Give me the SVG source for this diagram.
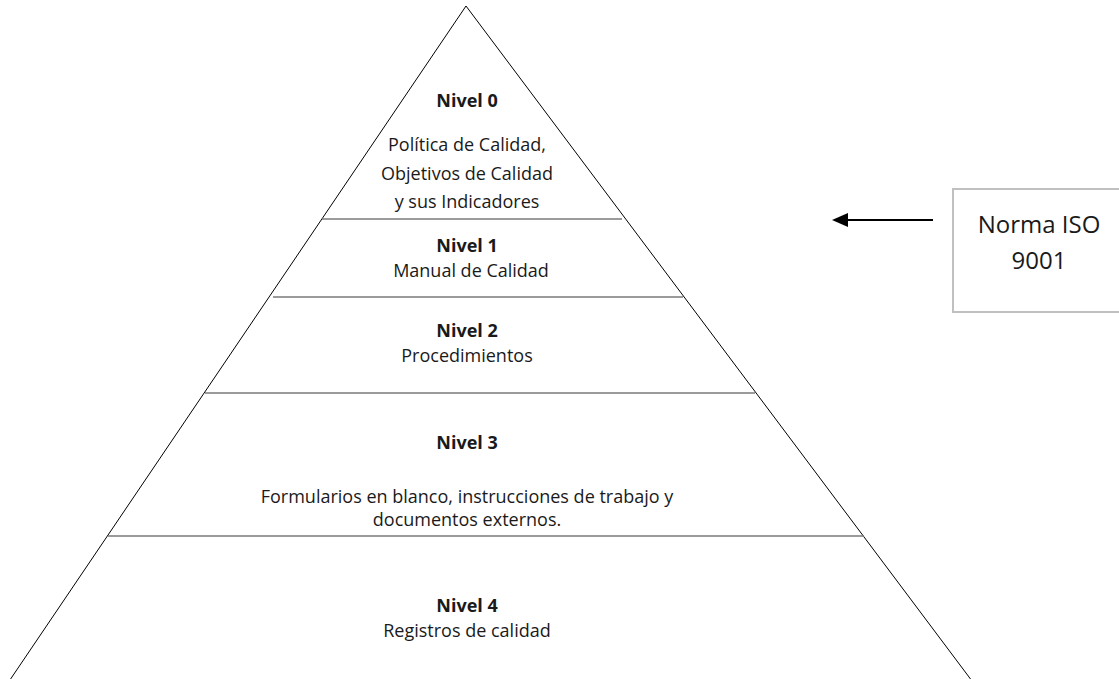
<svg xmlns="http://www.w3.org/2000/svg" width="1119" height="679" viewBox="0 0 1119 679">
<style>
.t{font-family:"Open Sans","Liberation Sans",sans-serif;font-size:18px;fill:#1a1a1a;text-anchor:middle}
.b{font-weight:bold;font-size:18px}
.big{font-size:24px}
.sep{stroke:#7a7a7a;stroke-width:1.5}
</style>
<defs>
<marker id="ahead" viewBox="0 0 16 14" markerWidth="16" markerHeight="14" refX="0" refY="7" orient="auto" markerUnits="userSpaceOnUse"><path d="M0,0 L16,7 L0,14 Z" fill="#000"/></marker>
</defs>
<rect width="1119" height="679" fill="#fff"/>
<g id="pyramid">
<path d="M10.6,679 L466,6 L970.5,679" fill="none" stroke="#000" stroke-width="1"/>
<line class="sep" x1="322" y1="219" x2="622" y2="219"/>
<line class="sep" x1="273" y1="297" x2="683" y2="297"/>
<line class="sep" x1="205" y1="393" x2="755" y2="393"/>
<line class="sep" x1="108" y1="536" x2="864" y2="536"/>
</g>
<g id="nivel0">
<text class="t b" x="467" y="107">Nivel 0</text>
<text class="t" x="467" y="151">Política de Calidad,</text>
<text class="t" x="467" y="180">Objetivos de Calidad</text>
<text class="t" x="467" y="208">y sus Indicadores</text>
</g>
<g id="nivel1">
<text class="t b" x="467" y="252">Nivel 1</text>
<text class="t" x="471" y="277">Manual de Calidad</text>
</g>
<g id="nivel2">
<text class="t b" x="467" y="337">Nivel 2</text>
<text class="t" x="467" y="362">Procedimientos</text>
</g>
<g id="nivel3">
<text class="t b" x="467" y="449">Nivel 3</text>
<text class="t" x="467" y="503">Formularios en blanco, instrucciones de trabajo y</text>
<text class="t" x="467" y="526">documentos externos.</text>
</g>
<g id="nivel4">
<text class="t b" x="467" y="612">Nivel 4</text>
<text class="t" x="467" y="637">Registros de calidad</text>
</g>
<g id="norma">
<rect x="953" y="189" width="180" height="123" fill="#fff" stroke="#c0c0c0" stroke-width="2"/>
<text class="t big" x="1039" y="233">Norma ISO</text>
<text class="t big" x="1039" y="269">9001</text>
</g>
<g id="connectors">
<line x1="933" y1="220" x2="848" y2="220" stroke="#000" stroke-width="2" marker-end="url(#ahead)"/>
</g>
</svg>
